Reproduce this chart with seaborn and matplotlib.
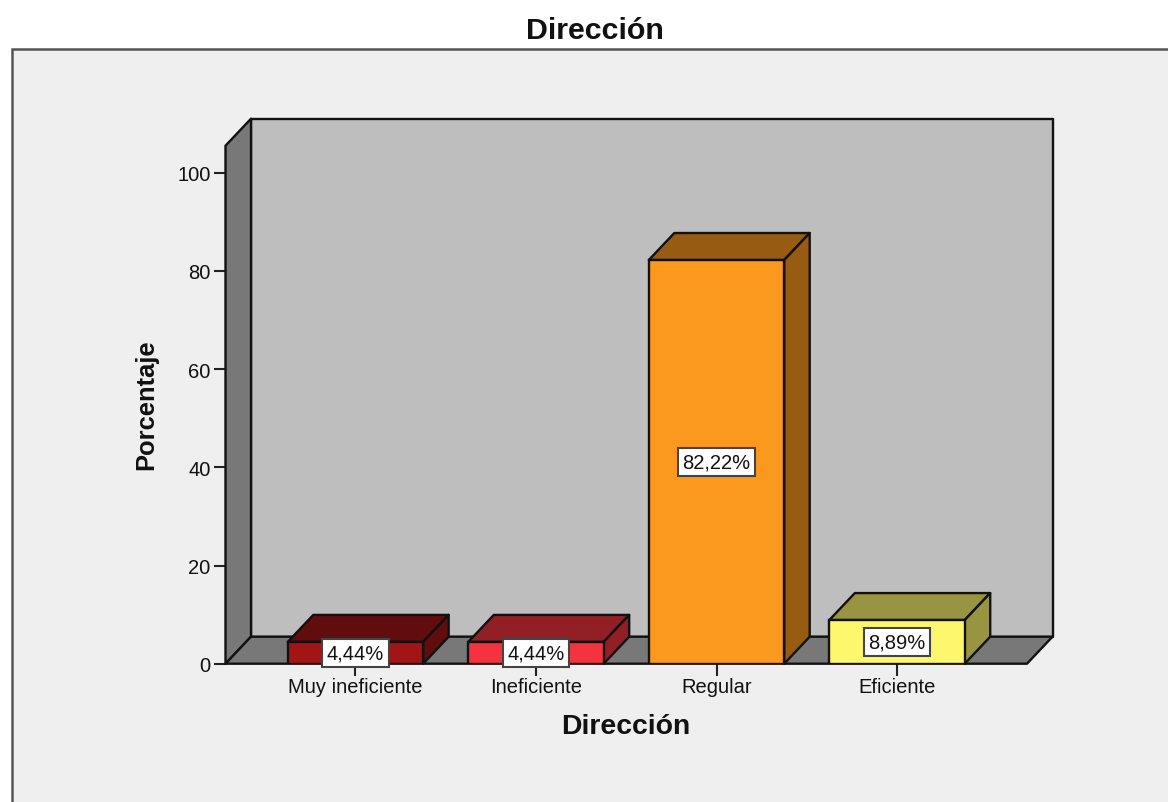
from matplotlib.patches import Polygon, Rectangle
from matplotlib.colors import to_rgb
import matplotlib.pyplot as plt
import seaborn as sns
import pandas as pd

categories = ["Muy ineficiente", "Ineficiente", "Regular", "Eficiente"]
porcentaje = [4.44, 4.44, 82.22, 8.89]
etiquetas = ["4,44%", "4,44%", "82,22%", "8,89%"]
colores = ["#a31515", "#f5333f", "#fb981e", "#fdf76d"]
yticks = [0, 20, 40, 60, 80, 100]

sns.set_theme(style="white", rc={"font.family": ["Liberation Sans", "DejaVu Sans"]})

W, H = 1168, 803
DX, DY = 25.5, 27  # depth of the 3d box, in pixels
EDGE = "#111111"


def darker(color, f=0.6):
    return tuple(c * f for c in to_rgb(color))


def px_poly(ax, pts, color, z):
    # pts are display pixels, saved dpi == fig dpi
    ax.add_patch(Polygon(pts, closed=True, transform=None, facecolor=color,
                         edgecolor=EDGE, linewidth=1.7, joinstyle="round",
                         zorder=z, clip_on=False))


fig = plt.figure(figsize=(W / 100, H / 100), dpi=100, facecolor="white")
fig.add_artist(Rectangle((11.5 / W, -0.02), 1.1, 1.02 - 49.5 / H, transform=fig.transFigure,
                         facecolor="#efefef", edgecolor="#555555", linewidth=1.8, zorder=-1))
ax = fig.add_axes([225.5 / W, (H - 664.7) / H, (1027 - 225.5) / W, 518 / H])
ax.patch.set_alpha(0)

data = pd.DataFrame({"categoria": categories, "porcentaje": porcentaje})
sns.barplot(data=data, x="categoria", y="porcentaje", hue="categoria", order=categories,
            hue_order=categories, palette=colores, saturation=1, dodge=False, width=0.75,
            legend=False, edgecolor=EDGE, linewidth=1.7, zorder=5, ax=ax)
ax.set_xlim(-0.72, 3.72)
ax.set_ylim(0, 105.5)
fig.canvas.draw()

# back wall, side wall, floor
(x0, y0), (x1, y1) = ax.transAxes.transform([(0, 0), (1, 1)])
px_poly(ax, [(x0 + DX, y0 + DY), (x1 + DX, y0 + DY), (x1 + DX, y1 + DY), (x0 + DX, y1 + DY)], "#bebebe", 1)
px_poly(ax, [(x0, y0), (x0 + DX, y0 + DY), (x0 + DX, y1 + DY), (x0, y1)], "#787878", 2)
px_poly(ax, [(x0, y0), (x1, y0), (x1 + DX, y0 + DY), (x0 + DX, y0 + DY)], "#787878", 2)

# top and side of every bar, then the value label in the middle of it
for bar, color, val, txt in zip(ax.patches[:4], colores, porcentaje, etiquetas):
    (a, b), (c, d) = ax.transData.transform(
        [(bar.get_x(), 0), (bar.get_x() + bar.get_width(), val)])
    px_poly(ax, [(a, d), (c, d), (c + DX, d + DY), (a + DX, d + DY)], darker(color), 4)
    px_poly(ax, [(c, b), (c + DX, b + DY), (c + DX, d + DY), (c, d)], darker(color), 4)
    ax.text(bar.get_x() + bar.get_width() / 2, val / 2, txt, ha="center", va="center",
            fontsize=14.5, color="#111111", zorder=8,
            bbox=dict(boxstyle="square,pad=0.22", facecolor="white", edgecolor="#444444", linewidth=1.5))

ax.set_yticks(yticks)
ax.set_xticks(range(len(categories)), categories)
ax.tick_params(axis="both", length=8.8, width=1.5, color="#222222", labelsize=14.5,
               labelcolor="#111111", left=True, bottom=True, pad=2)
ax.tick_params(axis="x", pad=1)
sns.despine(ax=ax, left=True, bottom=True, top=True, right=True)
ax.set_xlabel("")
ax.set_ylabel("")

fig.text(595 / W, (H - 31) / H, "Dirección", fontsize=21.9, fontweight="bold",
         ha="center", va="center", color="#111111")
fig.text(626 / W, (H - 727) / H, "Dirección", fontsize=20.4, fontweight="bold",
         ha="center", va="center", color="#111111")
fig.text(146 / W, (H - 405) / H, "Porcentaje", fontsize=18.4, fontweight="bold", rotation=90,
         ha="center", va="center", color="#111111")

fig.savefig("out.png", dpi=100)
